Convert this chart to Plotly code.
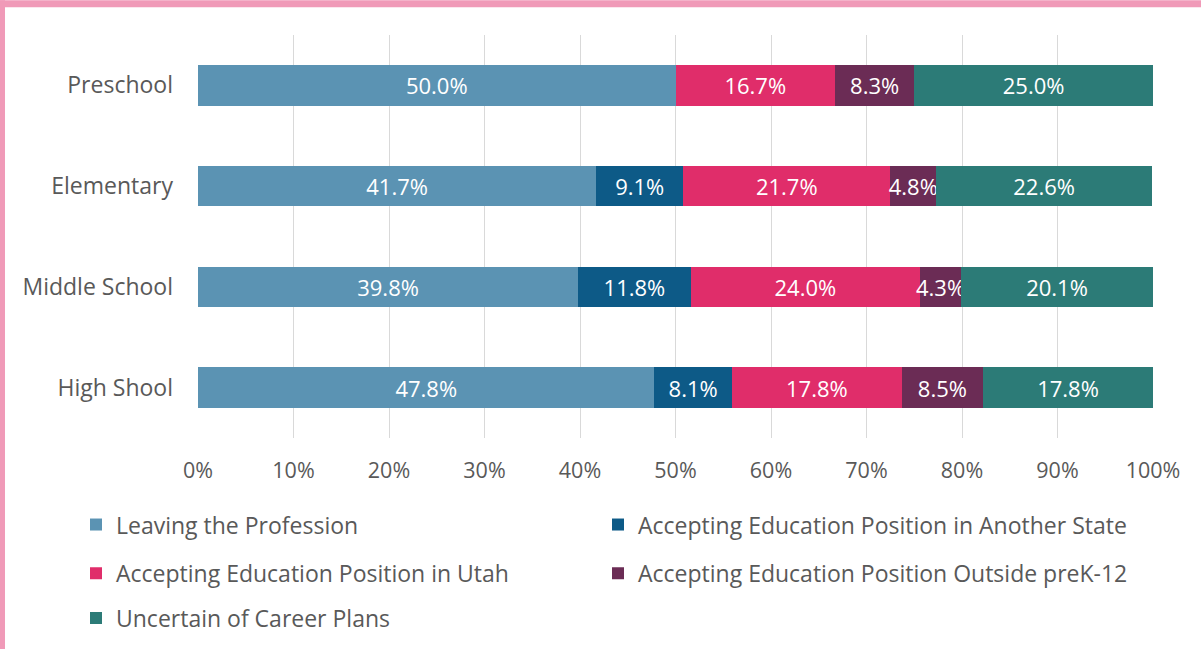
import plotly.graph_objects as go

categories = ["Preschool", "Elementary", "Middle School", "High Shool"]
series_names = [
    "Leaving the Profession",
    "Accepting Education Position in Another State",
    "Accepting Education Position in Utah",
    "Accepting Education Position Outside preK-12",
    "Uncertain of Career Plans",
]
leaving = [50.0, 41.7, 39.8, 47.8]
another_state = [None, 9.1, 11.8, 8.1]
utah = [16.7, 21.7, 24.0, 17.8]
outside = [8.3, 4.8, 4.3, 8.5]
uncertain = [25.0, 22.6, 20.1, 17.8]
x_ticks = [0, 10, 20, 30, 40, 50, 60, 70, 80, 90, 100]

colors = ["#5B93B3", "#0D5A87", "#E02D6A", "#6B2C55", "#2C7B77"]
legend_ids = ["legend", "legend2", "legend3", "legend4", "legend5"]
values = [leaving, another_state, utah, outside, uncertain]

FONT = "Open Sans"
W, H = 1201, 652
ML, MR, MT, MB = 198, 48, 35, 212
PW, PH = W - ML - MR, H - MT - MB

fig = go.Figure()
for name, vals, col, lg in zip(series_names, values, colors, legend_ids):
    fig.add_trace(go.Bar(
        y=categories, x=vals, name=name, orientation="h",
        marker=dict(color=col, line=dict(width=0)),
        texttemplate="%{x:.1f}%", textposition="inside",
        insidetextanchor="middle", constraintext="none",
        textfont=dict(color="white", size=22, family=FONT),
        legend=lg,
    ))


def px_y(y):
    return (H - MB - y) / PH


def px_x(x):
    return (x - ML) / PW


leg_common = dict(
    orientation="h", xanchor="left", yanchor="middle", traceorder="normal",
    font=dict(size=23, color="#595959", family=FONT),
    bgcolor="rgba(0,0,0,0)",
    itemclick=False, itemdoubleclick=False,
)
col1, col2 = px_x(76), px_x(598)

fig.update_layout(
    width=W, height=H,
    margin=dict(l=ML, r=MR, t=MT, b=MB, pad=0),
    paper_bgcolor="white", plot_bgcolor="white",
    barmode="stack", bargap=0.6,
    font=dict(family=FONT, color="#595959", size=22),
    showlegend=True,
    legend=dict(leg_common, x=col1, y=px_y(527)),
    legend2=dict(leg_common, x=col2, y=px_y(527)),
    legend3=dict(leg_common, x=col1, y=px_y(576)),
    legend4=dict(leg_common, x=col2, y=px_y(576)),
    legend5=dict(leg_common, x=col1, y=px_y(621)),
    xaxis=dict(
        range=[0, 100], tickmode="array", tickvals=x_ticks,
        ticktext=[f"{v}%" for v in x_ticks],
        showgrid=True, gridcolor="#D9D9D9", gridwidth=1,
        zeroline=False, showline=False, ticks="",
        tickfont=dict(size=21.5, color="#595959", family=FONT),
        ticklabelstandoff=17, fixedrange=True,
    ),
    yaxis=dict(
        categoryorder="array", categoryarray=categories,
        autorange=False, range=[3.5, -0.5],
        showgrid=False, zeroline=False, showline=False, ticks="",
        tickfont=dict(size=23, color="#595959", family=FONT),
        ticklabelstandoff=24, fixedrange=True,
    ),
    shapes=[
        dict(type="rect", xref="paper", yref="paper",
             x0=px_x(0), x1=px_x(W), y0=px_y(7), y1=px_y(0),
             fillcolor="#F09AB8", line=dict(width=0), layer="above"),
        dict(type="rect", xref="paper", yref="paper",
             x0=px_x(0), x1=px_x(5), y0=px_y(H), y1=px_y(0),
             fillcolor="#F09AB8", line=dict(width=0), layer="above"),
    ],
)

fig.write_html(
    "out.html",
    config={"displayModeBar": False},
    post_script="document.body.style.margin='0';document.body.style.overflow='hidden';",
)
